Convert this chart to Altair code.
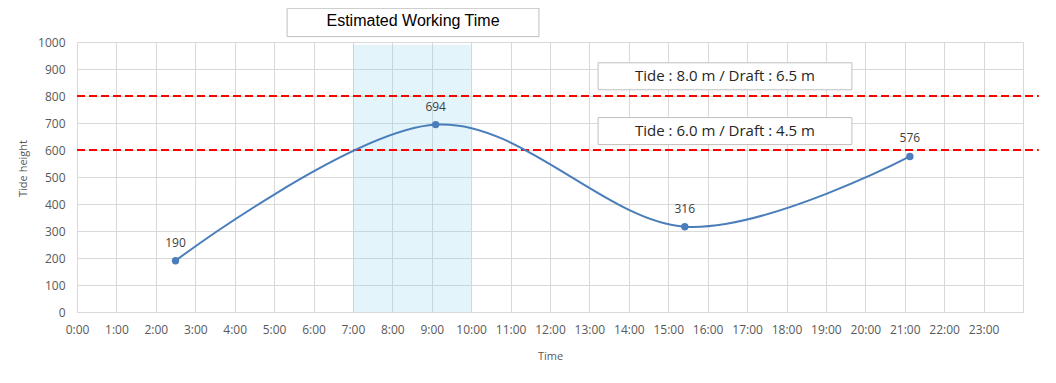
import altair as alt
import pandas as pd

# ---- data ----
times_h = [2.50, 9.10, 15.42, 21.13]          # hours of day
tide_cm = [190, 694, 316, 576]                # tide height
hour_ticks = list(range(0, 25))
y_ticks = list(range(0, 1001, 100))
limit_levels = [800, 600]
limit_labels = ["Tide : 8.0 m / Draft : 6.5 m", "Tide : 6.0 m / Draft : 4.5 m"]
work_window = [7, 10]
work_top = 990
title_text = "Estimated Working Time"

# ---- layout constants (data units) ----
RULE_END = 24.4
BOX_X = [13.22, 19.66]
BOX_HALF = 50
BOX_OFFSET = [73, 70]
TITLE_BOX_X = [5.33, 11.72]
TITLE_BOX_Y = [1020, 1125]
TITLE_Y = 1079

FONT = "Open Sans"
GRID = "#d9d9d9"
TXT = "#595959"
LINE = "#4a7ebb"

xscale = alt.Scale(domain=[0, 24], nice=False, zero=False)
yscale = alt.Scale(domain=[0, 1000], nice=False, zero=False)

x_axis = alt.Axis(
    values=hour_ticks,
    labelExpr="datum.value < 24 ? datum.value + ':00' : ''",
    title="Time", grid=True, gridColor=GRID, domainColor=GRID,
    ticks=False, tickSize=0, labelPadding=12, labelFont=FONT, labelFontSize=12,
    labelColor=TXT, labelFlush=False, labelOverlap=False,
    titleFont=FONT, titleFontSize=11, titleFontWeight="normal", titleColor=TXT,
    titleY=44, titleBaseline="middle",
)
y_axis = alt.Axis(
    values=y_ticks, format="d", title="Tide height", grid=True, gridColor=GRID, domainColor=GRID,
    ticks=False, tickSize=0, labelPadding=12, labelFont=FONT, labelFontSize=12,
    labelColor=TXT, labelOverlap=False,
    titleFont=FONT, titleFontSize=11, titleFontWeight="normal", titleColor=TXT,
    titleX=-54, titleY=126, titleBaseline="middle", titleAlign="center", titleAngle=-90,
)

def X(f):
    return alt.X(f, type="quantitative", scale=xscale, axis=x_axis)

def Y(f):
    return alt.Y(f, type="quantitative", scale=yscale, axis=y_axis)

pts = pd.DataFrame({"t": times_h, "h": tide_cm})

shade = alt.Chart(pd.DataFrame({"x": [work_window[0]], "x2": [work_window[1]], "y": [0], "y2": [work_top]})).mark_rect(
    color="#8fd3f0", opacity=0.25
).encode(x=X("x"), x2="x2", y=Y("y"), y2="y2")

rules = alt.Chart(pd.DataFrame({"y": limit_levels, "x": [0] * 2, "x2": [RULE_END] * 2})).mark_rule(
    color="#ff0000", strokeWidth=2, strokeDash=[8, 4]
).encode(x=X("x"), x2="x2", y=Y("y"))

line = alt.Chart(pts).mark_line(interpolate="cardinal", color=LINE, strokeWidth=2).encode(
    x=X("t"), y=Y("h")
)
dots = alt.Chart(pts).mark_circle(color=LINE, size=55, opacity=1).encode(x=X("t"), y=Y("h"))
vals = alt.Chart(pts).mark_text(
    font=FONT, fontSize=12, color="#404040", dy=-14, baseline="alphabetic"
).encode(x=X("t"), y=Y("h"), text="h:Q")

box_df = pd.DataFrame({
    "label": limit_labels,
    "x": [BOX_X[0]] * 2, "x2": [BOX_X[1]] * 2,
    "yc": [lv + off for lv, off in zip(limit_levels, BOX_OFFSET)],
})
box_df["y"] = box_df["yc"] - BOX_HALF
box_df["y2"] = box_df["yc"] + BOX_HALF
box_df["xc"] = (box_df["x"] + box_df["x2"]) / 2

boxes = alt.Chart(box_df).mark_rect(fill="white", stroke="#bfbfbf", strokeWidth=1).encode(
    x=X("x"), x2="x2", y=Y("y"), y2="y2"
)
box_txt = alt.Chart(box_df).mark_text(font=FONT, fontSize=15, color="#262626", baseline="middle").encode(
    x=X("xc"), y=Y("yc"), text="label:N"
)

tb_df = pd.DataFrame({"x": [TITLE_BOX_X[0]], "x2": [TITLE_BOX_X[1]], "y": [TITLE_BOX_Y[0]], "y2": [TITLE_BOX_Y[1]],
                      "xc": [sum(TITLE_BOX_X) / 2], "yc": [TITLE_Y], "label": [title_text]})
tbox = alt.Chart(tb_df).mark_rect(fill="white", stroke="#bfbfbf", strokeWidth=1).encode(
    x=X("x"), x2="x2", y=Y("y"), y2="y2"
)
ttxt = alt.Chart(tb_df).mark_text(font="Liberation Sans", fontSize=16, color="#000000", baseline="middle").encode(
    x=X("xc"), y=Y("yc"), text="label:N"
)

chart = alt.layer(shade, rules, line, dots, vals, boxes, box_txt, tbox, ttxt).properties(
    width=946, height=270,
    autosize=alt.AutoSizeParams(type="none"),
    padding={"left": 69, "top": 34, "right": 24, "bottom": 50},
    background="white",
).configure_view(stroke=None)

chart.save("out.html", embed_options={"renderer": "svg", "actions": False})
